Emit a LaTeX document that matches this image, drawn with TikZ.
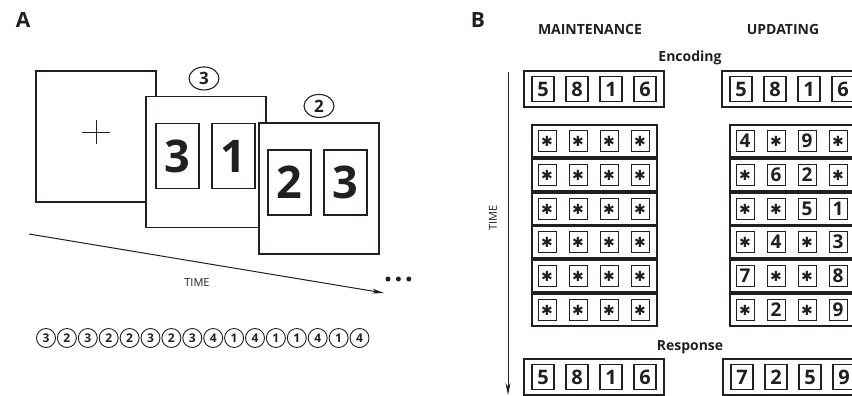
\documentclass[tikz,border=0pt]{standalone}
\usepackage{fontspec}
\setmainfont{Open Sans}
\newfontfamily\symfont{DejaVu Sans}
\usepackage{tikz}
\usetikzlibrary{arrows.meta,positioning,shapes.geometric}
\definecolor{inkBlack}{HTML}{231F20}
\newcommand{\mask}{{\symfont\fontsize{14pt}{14pt}\selectfont ✱}}
% one row of four items: name, centre, items
\newcommand{\stimrow}[6]{%
  \node[rowbox] (#1) at (#2) {};
  \node[itembox, right=6pt of #1.west] (#1a) {#3};
  \node[itembox, right=13pt of #1a] (#1b) {#4};
  \node[itembox, right=13pt of #1b] (#1c) {#5};
  \node[itembox, right=13pt of #1c] (#1d) {#6};
}
% encoding / response set: name, centre, digits
\newcommand{\setrow}[6]{%
  \node[setbox] (#1) at (#2) {};
  \node[setdig, right=8pt of #1.west] (#1a) {#3};
  \node[setdig, right=12pt of #1a] (#1b) {#4};
  \node[setdig, right=12pt of #1b] (#1c) {#5};
  \node[setdig, right=12pt of #1c] (#1d) {#6};
}

\begin{document}
\begin{tikzpicture}[
x=1pt, y=-1pt,
every node/.style={text=inkBlack},
panel/.style={font=\fontsize{21pt}{21pt}\selectfont\bfseries},
head/.style={font=\fontsize{14pt}{14pt}\selectfont\bfseries},
axislbl/.style={font=\fontsize{11pt}{11pt}\selectfont},
framebox/.style={draw=inkBlack, fill=white, line width=1.3pt, minimum width=120pt, minimum height=131pt, inner sep=0pt, outer sep=0pt},
bigdig/.style={draw=inkBlack, line width=1.1pt, minimum width=43pt, minimum height=65pt, inner sep=0pt, outer sep=0pt, font=\fontsize{45pt}{45pt}\selectfont\bfseries},
cue/.style={draw=inkBlack, ellipse, line width=1.1pt, minimum width=30pt, minimum height=23pt, inner sep=0pt, font=\fontsize{17pt}{17pt}\selectfont\bfseries},
seqcue/.style={draw=inkBlack, circle, line width=0.9pt, minimum size=19pt, inner sep=0pt, outer sep=0pt, font=\fontsize{12pt}{12pt}\selectfont\bfseries},
setbox/.style={draw=inkBlack, line width=1.2pt, minimum width=140pt, minimum height=36pt, inner sep=0pt, outer sep=0pt},
setdig/.style={draw=inkBlack, line width=1.1pt, minimum width=22pt, minimum height=25pt, inner sep=0pt, outer sep=0pt, font=\fontsize{20pt}{20pt}\selectfont\bfseries},
rowbox/.style={draw=inkBlack, line width=1.2pt, minimum width=125pt, minimum height=32pt, inner sep=0pt, outer sep=0pt},
itembox/.style={draw=inkBlack, line width=1pt, minimum width=18pt, minimum height=21pt, inner sep=0pt, outer sep=0pt, font=\fontsize{19pt}{19pt}\selectfont\bfseries},
timearr/.style={draw=inkBlack, line width=1pt, -{Stealth[length=12pt,width=5pt]}},
dotc/.style={circle, fill=inkBlack, minimum size=5pt, inner sep=0pt}
]
\useasboundingbox (0,0) rectangle (852,396);
\path[clip] (0,0) rectangle (852,396);

% Panel A: trial sequence
\node[panel] (pA) at (23,20) {A};
\node[framebox] (f1) at (96,136.5) {};
\coordinate (fix) at (96,132);
\draw[inkBlack, line width=1pt] ([xshift=-14pt]fix) -- ([xshift=14pt]fix) ([yshift=-12pt]fix) -- ([yshift=12pt]fix);
\node[framebox] (f2) at (206,162) {};
\node[bigdig, below right=27pt and 10pt of f2.north west] (f2a) {3};
\node[bigdig, right=13pt of f2a] (f2b) {1};
\node[cue, above=6pt of f2.north, xshift=-2pt] (c2) {3};
\node[framebox] (f3) at (319,188.5) {};
\node[bigdig, below right=27pt and 9pt of f3.north west] (f3a) {2};
\node[bigdig, right=13pt of f3a] (f3b) {3};
\node[cue, above=5pt of f3.north] (c3) {2};

\coordinate (t0) at (29,234);
\coordinate (t1) at (384,293);
\draw[timearr] (t0) -- (t1);
\node[axislbl] (tA) at (197,283) {TIME};
\node[dotc] (d1) at (388,279) {};
\node[dotc, right=5pt of d1] (d2) {};
\node[dotc, right=5pt of d2] (d3) {};

% cue sequence
\node[seqcue] (s1) at (46,338) {3};
\node[seqcue, right=1.9pt of s1] (s2) {2};
\node[seqcue, right=1.9pt of s2] (s3) {3};
\node[seqcue, right=1.9pt of s3] (s4) {2};
\node[seqcue, right=1.9pt of s4] (s5) {2};
\node[seqcue, right=1.9pt of s5] (s6) {3};
\node[seqcue, right=1.9pt of s6] (s7) {2};
\node[seqcue, right=1.9pt of s7] (s8) {3};
\node[seqcue, right=1.9pt of s8] (s9) {4};
\node[seqcue, right=1.9pt of s9] (s10) {1};
\node[seqcue, right=1.9pt of s10] (s11) {4};
\node[seqcue, right=1.9pt of s11] (s12) {1};
\node[seqcue, right=1.9pt of s12] (s13) {1};
\node[seqcue, right=1.9pt of s13] (s14) {4};
\node[seqcue, right=1.9pt of s14] (s15) {1};
\node[seqcue, right=1.9pt of s15] (s16) {4};

% Panel B: maintenance vs updating
\node[panel] (pB) at (478,20) {B};
\node[head] (hM) at (590,30) {MAINTENANCE};
\node[head] (hU) at (783,30) {UPDATING};
\node[head] (hE) at (690,58) {Encoding};
\node[head] (hR) at (690,347) {Response};

\coordinate (a0) at (508,72);
\coordinate (a1) at (508,395);
\draw[timearr] (a0) -- (a1);
\node[axislbl, rotate=90] (tB) at (493,218) {TIME};

\setrow{mE}{594,89}{5}{8}{1}{6}
\setrow{uE}{792,89}{5}{8}{1}{6}

\stimrow{m1}{594.5,141}{\mask}{\mask}{\mask}{\mask}
\stimrow{m2}{594.5,175}{\mask}{\mask}{\mask}{\mask}
\stimrow{m3}{594.5,209}{\mask}{\mask}{\mask}{\mask}
\stimrow{m4}{594.5,242}{\mask}{\mask}{\mask}{\mask}
\stimrow{m5}{594.5,276}{\mask}{\mask}{\mask}{\mask}
\stimrow{m6}{594.5,310}{\mask}{\mask}{\mask}{\mask}

\stimrow{u1}{792.5,141}{4}{\mask}{9}{\mask}
\stimrow{u2}{792.5,175}{\mask}{6}{2}{\mask}
\stimrow{u3}{792.5,209}{\mask}{\mask}{5}{1}
\stimrow{u4}{792.5,242}{\mask}{4}{\mask}{3}
\stimrow{u5}{792.5,276}{7}{\mask}{\mask}{8}
\stimrow{u6}{792.5,310}{\mask}{2}{\mask}{9}

\setrow{mR}{594,377}{5}{8}{1}{6}
\setrow{uR}{793,377}{7}{2}{5}{9}
\end{tikzpicture}
\end{document}
